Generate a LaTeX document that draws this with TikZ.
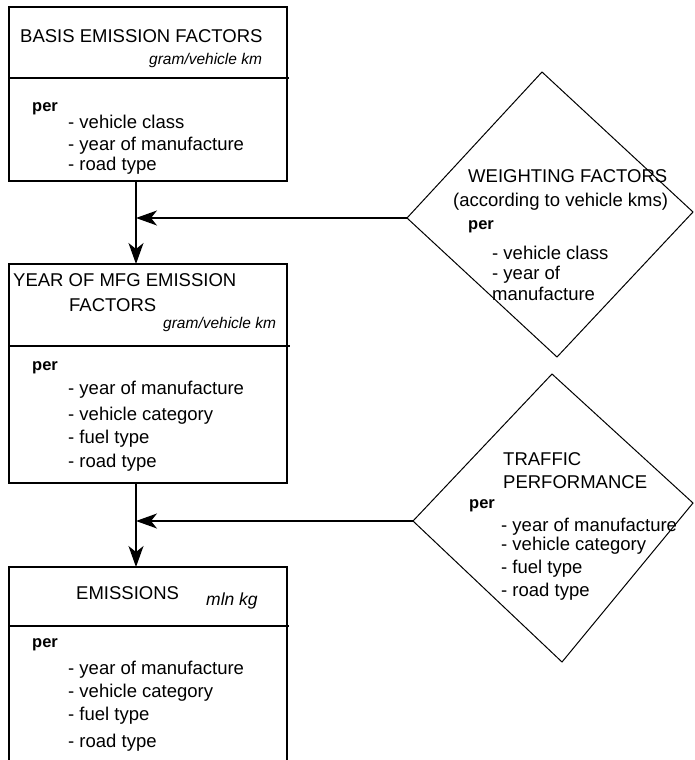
\documentclass[tikz,border=0pt]{standalone}
\usepackage{fontspec}
\setmainfont{Liberation Sans}
\usetikzlibrary{arrows.meta}

\begin{document}
\begin{tikzpicture}[x=1pt,y=-1pt,
    box/.style={draw,line width=1.5pt,anchor=north west,minimum width=278pt,inner sep=0pt,outer sep=0pt},
    txt/.style={anchor=base west,inner sep=0pt,font=\fontsize{18.5}{22}\selectfont},
    unit/.style={anchor=base west,inner sep=0pt,font=\fontsize{15.5}{18}\selectfont\itshape},
    per/.style={anchor=base west,inner sep=0pt,font=\fontsize{16.5}{20}\selectfont\bfseries},
    arr/.style={line width=1.5pt,-{Stealth[length=21pt,width=15pt,inset=6pt]}}]
    \useasboundingbox (0,0) rectangle (694,760);
    \node[box,minimum height=174pt] (basis) at (9,7) {};
    \node[box,minimum height=219pt] (mfg) at (9,264) {};
    \node[box,minimum height=215pt] (emis) at (9,567) {};
    \draw[line width=1.5pt] (basis.north west) ++(0,71) -- ++(280,0);
    \draw[line width=1.5pt] (mfg.north west) ++(0,82) -- ++(281,0);
    \draw[line width=1.5pt] (emis.north west) ++(0,59) -- ++(280,0);
    \coordinate (wT) at (542,72);
    \coordinate (wR) at (693,212);
    \coordinate (wB) at (557,357);
    \coordinate (wL) at (407,218);
    \coordinate (tT) at (552,374);
    \coordinate (tR) at (693,503);
    \coordinate (tB) at (562,662);
    \coordinate (tL) at (413,521);
    \draw[line width=1pt] (wT) -- (wR) -- (wB) -- (wL) -- cycle;
    \draw[line width=1pt] (tT) -- (tR) -- (tB) -- (tL) -- cycle;
    \coordinate (v) at (136,0);
    \draw[arr] (basis.south -| v) -- (mfg.north -| v);
    \draw[arr] (mfg.south -| v) -- (emis.north -| v);
    \draw[arr] (wL) -- (wL -| v);
    \draw[arr] (tL) -- (tL -| v);
    \node[txt] (basisT) at (20,43) {BASIS EMISSION FACTORS};
    \node[unit] (basisU) at (149,65) {gram/vehicle km};
    \node[per] (basisP) at (32,111) {per};
    \foreach \y/\t [count=\i] in {128/vehicle class,150/year of manufacture,170/road type}
      \node[txt] (basis\i) at (68,\y) {- \t};
    \node[txt] (mfgT) at (13,286) {YEAR OF MFG EMISSION};
    \node[txt] (mfgT2) at (69,311) {FACTORS};
    \node[unit] (mfgU) at (163,328) {gram/vehicle km};
    \node[per] (mfgP) at (32,370) {per};
    \foreach \y/\t [count=\i] in {394/year of manufacture,420/vehicle category,443/fuel type,467/road type}
      \node[txt] (mfg\i) at (68,\y) {- \t};
    \node[txt] (emisT) at (76,599) {EMISSIONS};
    \node[unit,font=\fontsize{17.5}{20}\selectfont\itshape] (emisU) at (206,605) {mln kg};
    \node[per] (emisP) at (32,647) {per};
    \foreach \y/\t [count=\i] in {674/year of manufacture,697/vehicle category,720/fuel type,747/road type}
      \node[txt] (emis\i) at (68,\y) {- \t};
    \node[txt] (wT1) at (468,182) {WEIGHTING FACTORS};
    \node[txt] (wT2) at (453,206) {(according to vehicle kms)};
    \node[per] (wP) at (468,229) {per};
    \node[txt] (w1) at (492,259) {- vehicle class};
    \node[txt] (w2) at (492,279) {- year of};
    \node[txt] (w3) at (492,300) {manufacture};
    \node[txt] (tT1) at (503,465) {TRAFFIC};
    \node[txt] (tT2) at (503,488) {PERFORMANCE};
    \node[per] (tP) at (469,508) {per};
    \foreach \y/\t [count=\i] in {531/year of manufacture,550/vehicle category,573/fuel type,596/road type}
      \node[txt] (t\i) at (501,\y) {- \t};
  \end{tikzpicture}
\end{document}
